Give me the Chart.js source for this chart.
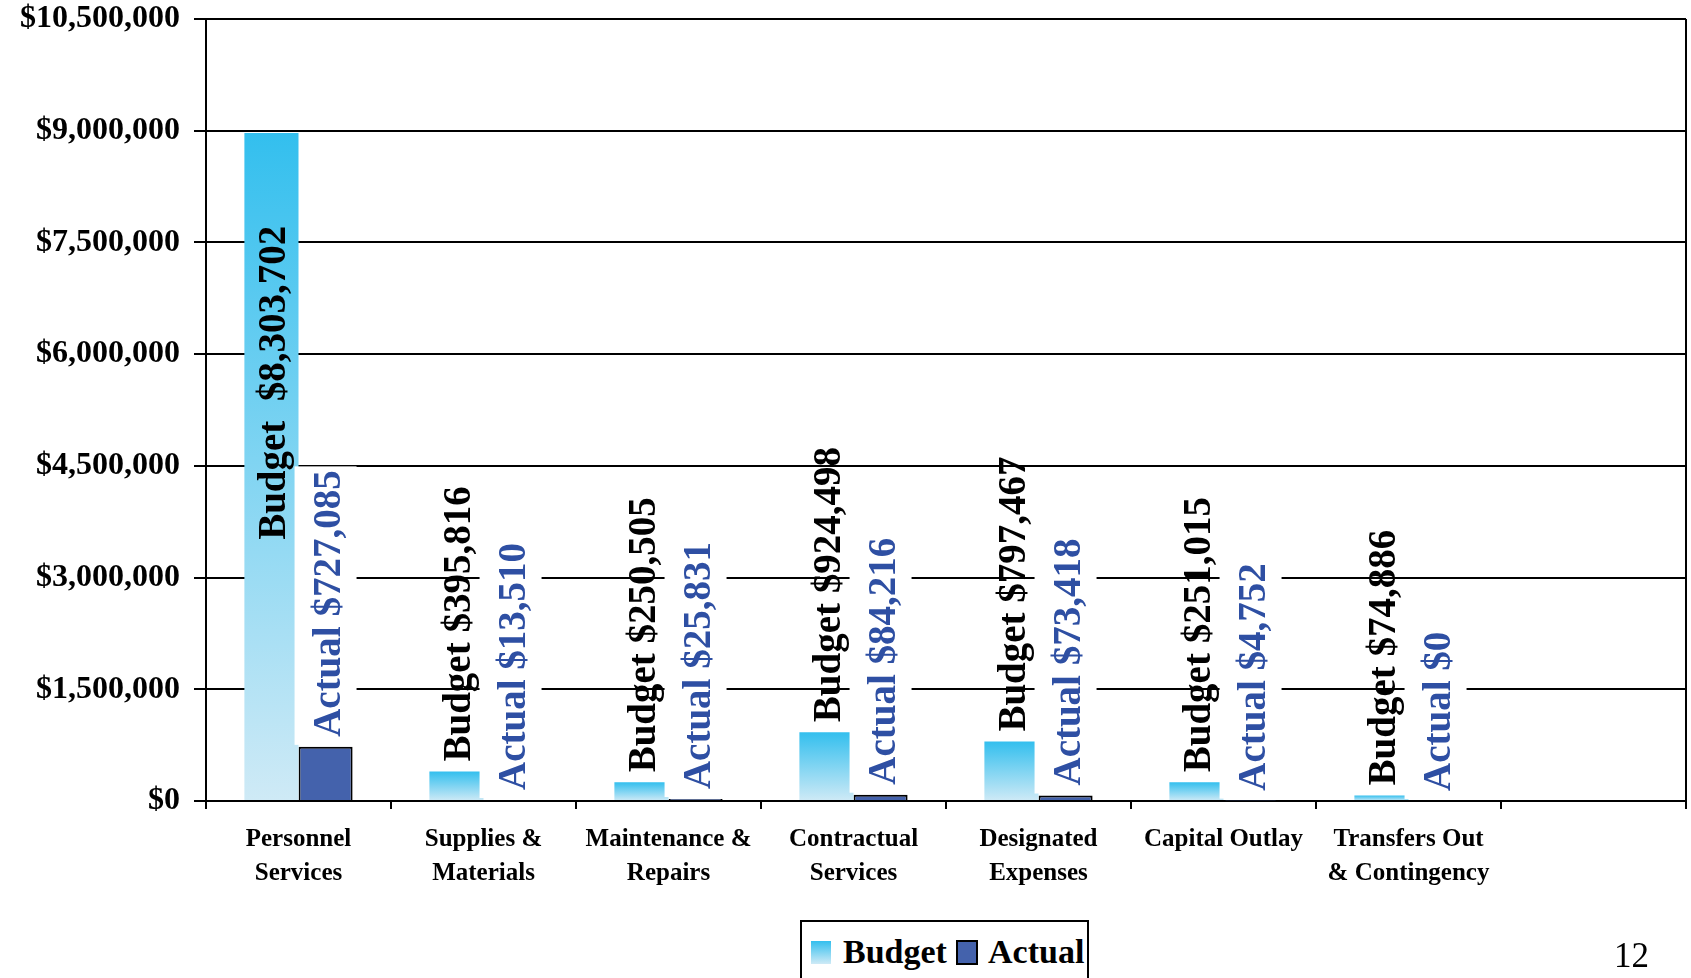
<!DOCTYPE html>
<html>
<head>
<meta charset="utf-8">
<script src="https://cdn.jsdelivr.net/npm/chart.js@4.4.1/dist/chart.umd.min.js"></script>
<style>
    body { margin: 0; background: #fff; }
    #wrap { position: relative; width: 1691px; height: 978px; overflow: hidden; }
    #legend {
        position: absolute; left: 800px; top: 920px; width: 285px; height: 80px;
        border: 2px solid #000; background: #fff;
        font-family: "Liberation Serif", serif; font-weight: bold; font-size: 34px;
    }
    #legend .sw { position: absolute; width: 20px; height: 23px; top: 19px; }
    #legend .txt { position: absolute; top: 10px; line-height: 40px; }
    #page { position: absolute; left: 1614px; top: 936px; font-family: "Liberation Serif", serif; font-size: 35px; }
</style>
</head>
<body>
<div id="wrap">
    <canvas id="barChart" width="1691" height="978"></canvas>
    <div id="legend">
        <div class="sw" style="left:9px;background:linear-gradient(#33bfee,#cfeaf6);"></div>
        <div class="txt" style="left:41px;">Budget</div>
        <div class="sw" style="left:154px;width:18px;height:21px;background:#4462ac;border:2px solid #000;box-sizing:content-box;top:18px;"></div>
        <div class="txt" style="left:186px;">Actual</div>
    </div>
    <div id="page">12</div>
</div>
<script>
"use strict";
var categories = [
    ['Personnel', 'Services'],
    ['Supplies &', 'Materials'],
    ['Maintenance &', 'Repairs'],
    ['Contractual', 'Services'],
    ['Designated', 'Expenses'],
    ['Capital Outlay'],
    ['Transfers Out', '& Contingency'],
    ''
];
var budgetValues = [8970000, 395816, 250505, 924498, 797467, 251015, 74886, null];
var actualValues = [727085, 13510, 25831, 84216, 73418, 4752, 0, null];
var budgetLabels = ['Budget  $8,303,702', 'Budget $395,816', 'Budget $250,505', 'Budget $924,498',
    'Budget $797,467', 'Budget $251,015', 'Budget $74,886', ''];
var actualLabels = ['Actual $727,085', 'Actual $13,510', 'Actual $25,831', 'Actual $84,216',
    'Actual $73,418', 'Actual $4,752', 'Actual $0', ''];
var yTicks = [0, 1500000, 3000000, 4500000, 6000000, 7500000, 9000000, 10500000];

/*gradient for each budget bar, cyan on top, pale at the base*/
function budgetFill(context) {
    var chart = context.chart;
    var y = chart.scales.y;
    if (!y || context.raw == null) return '#33bfee';
    var top = y.getPixelForValue(context.raw);
    var base = y.getPixelForValue(0);
    if (!isFinite(top) || !isFinite(base)) return '#33bfee';
    if (base - top < 1) top = base - 1;
    var g = chart.ctx.createLinearGradient(0, top, 0, base);
    g.addColorStop(0, '#33bfee');
    g.addColorStop(1, '#cfeaf6');
    return g;
}

/*vertical value labels + right frame line*/
var barLabels = {
    id: 'barLabels',
    afterDatasetsDraw: function(chart) {
        var ctx = chart.ctx;
        var area = chart.chartArea;
        ctx.save();
        ctx.strokeStyle = '#000';
        ctx.lineWidth = 2;
        ctx.beginPath();
        ctx.moveTo(area.right, area.top);
        ctx.lineTo(area.right, area.bottom);
        ctx.stroke();

        ctx.font = 'bold 39px "Liberation Serif"';
        ctx.textAlign = 'left';
        ctx.textBaseline = 'alphabetic';
        var sets = [
            { meta: chart.getDatasetMeta(0), text: budgetLabels, color: '#000', box: false },
            { meta: chart.getDatasetMeta(1), text: actualLabels, color: '#2e4fa3', box: true }
        ];
        sets.forEach(function(s) {
            s.meta.data.forEach(function(el, i) {
                var t = s.text[i];
                if (!t) return;
                var w = ctx.measureText(t).width;
                var start = el.y - 10;
                if (start - w < area.top) start = el.y + (el.base - el.y) * 0.61;
                if (s.box) {
                    ctx.fillStyle = '#fff';
                    ctx.fillRect(el.x - 31, start - w - 4, 62, w + 12);
                }
                ctx.save();
                ctx.translate(el.x + 14, start);
                ctx.rotate(-Math.PI / 2);
                ctx.fillStyle = s.color;
                ctx.fillText(t, 0, 0);
                ctx.restore();
            });
        });
        ctx.restore();
    }
};

var bar = document.getElementById("barChart").getContext('2d');
var myBarChart = new Chart(bar, {
    type: 'bar',
    data: {
        labels: categories,
        datasets: [{
            label: 'Budget',
            data: budgetValues,
            backgroundColor: budgetFill,
            borderWidth: 0
        }, {
            label: 'Actual',
            data: actualValues,
            backgroundColor: '#4462ac',
            borderColor: '#000',
            borderWidth: 2
        }]
    },
    options: {
        responsive: false,
        devicePixelRatio: 1,
        animation: false,
        categoryPercentage: 0.585,
        barPercentage: 1.0,
        layout: { padding: { left: 0, top: 19, right: 5, bottom: 0 } },
        plugins: {
            legend: { display: false },
            tooltip: { enabled: false }
        },
        scales: {
            x: {
                grid: { display: true, drawOnChartArea: false, drawTicks: true, tickLength: 8, color: '#000', lineWidth: 2 },
                border: { display: true, color: '#000', width: 2 },
                ticks: {
                    color: '#000', maxRotation: 0, autoSkip: false, padding: 14,
                    font: { family: 'Liberation Serif', weight: 'bold', size: 25, lineHeight: 1.34 }
                },
                afterFit: function(s) { s.height = 177; }
            },
            y: {
                min: 0,
                max: 10500000,
                afterBuildTicks: function(s) { s.ticks = yTicks.map(function(v) { return { value: v }; }); },
                grid: { color: '#000', lineWidth: 2, tickLength: 12 },
                border: { display: true, color: '#000', width: 2 },
                ticks: {
                    color: '#000', padding: 14,
                    font: { family: 'Liberation Serif', weight: 'bold', size: 32 },
                    callback: function(v) { return '$' + Number(v).toLocaleString('en-US'); }
                },
                afterFit: function(s) { s.width = 206; s.paddingTop = 0; s.paddingBottom = 0; }
            }
        }
    },
    plugins: [barLabels]
});
</script>
</body>
</html>
